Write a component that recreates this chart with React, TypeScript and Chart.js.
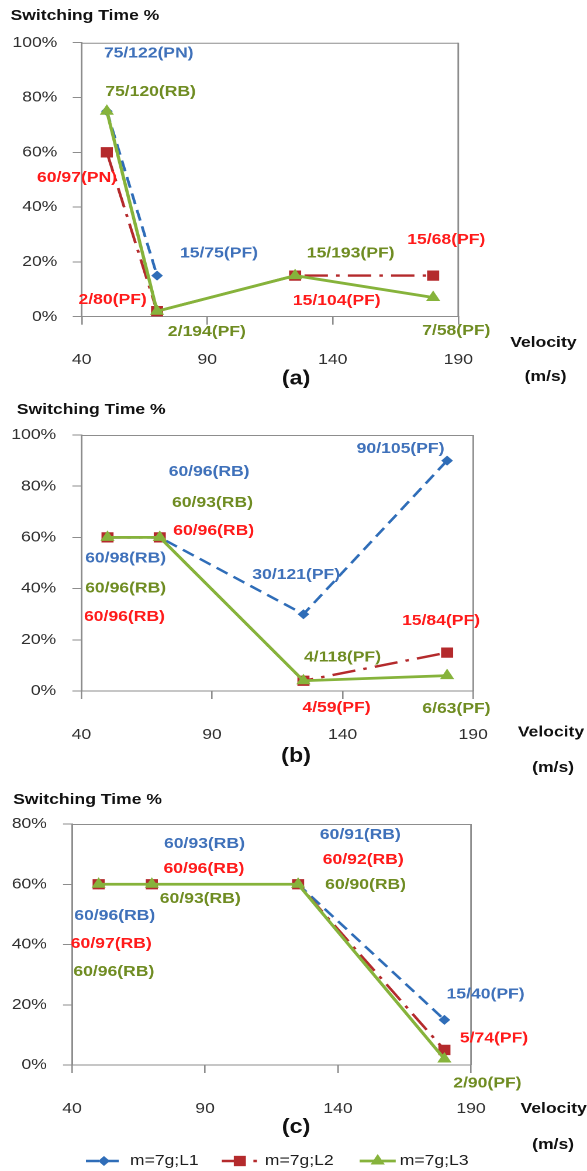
import React, { useEffect, useRef } from "react";
import { Chart, registerables } from "chart.js";

Chart.register(...registerables);

// ---- data -------------------------------------------------------------
const velocity = [50, 70, 125, 180];
const seriesNames = ["m=7g;L1", "m=7g;L2", "m=7g;L3"];

// (a)
const aL1 = [75, 15, null, null];
const aL2 = [60, 2, 15, 15];
const aL3 = [75, 2, 15, 7];
const aL1Text = ["75/122(PN)", "15/75(PF)", null, null];
const aL2Text = ["60/97(PN)", "2/80(PF)", "15/104(PF)", "15/68(PF)"];
const aL3Text = ["75/120(RB)", "2/194(PF)", "15/193(PF)", "7/58(PF)"];

// (b)
const bL1 = [60, 60, 30, 90];
const bL2 = [60, 60, 4, 15];
const bL3 = [60, 60, 4, 6];
const bL1Text = ["60/98(RB)", "60/96(RB)", "30/121(PF)", "90/105(PF)"];
const bL2Text = ["60/96(RB)", "60/96(RB)", "4/59(PF)", "15/84(PF)"];
const bL3Text = ["60/96(RB)", "60/93(RB)", "4/118(PF)", "6/63(PF)"];

// (c)
const cL1 = [60, 60, 60, 15];
const cL2 = [60, 60, 60, 5];
const cL3 = [60, 60, 60, 2];
const cL1Text = ["60/96(RB)", "60/93(RB)", "60/91(RB)", "15/40(PF)"];
const cL2Text = ["60/97(RB)", "60/96(RB)", "60/92(RB)", "5/74(PF)"];
const cL3Text = ["60/96(RB)", "60/93(RB)", "60/90(RB)", "2/90(PF)"];

const xMin = 40;
const xMax = 190;
const xStep = 50;
const yStep = 20;

// ---- styling ------------------------------------------------------------
const FONT = '"Liberation Sans", Arial, Helvetica, sans-serif';
const INNER_W = 502; // drawing width; canvases are shown 587px wide
const OUTER_W = 587;
const AXIS = "#8d8d8d";
const TEXT = "#303030";
const lineColors = ["#2f6db8", "#b42a2c", "#86b33b"];
const labelColors = ["#3f71ba", "#ff1a1a", "#6f8c22"];
const dashes = [[11, 6], [20, 7, 3, 7], []];
const lineWidths = [2.4, 2.4, 2.8];
const pointStyles = ["rectRot", "rect", "triangle"];
const pointRadii = [5, 7.3, 7];

type Off = [number, number];
type PanelSpec = {
  tag: string;
  height: number;
  yMax: number;
  area: { left: number; right: number; top: number; bottom: number };
  yPad: number;
  xPad: number;
  values: (number | null)[][];
  texts: (string | null)[][];
  offsets: Off[][];
  titlePos: [number, number];
  velocityPos: [number, number];
  unitPos: [number, number];
  tagPos: [number, number];
  legend: boolean;
};

const panels: PanelSpec[] = [
  {
    tag: "(a)",
    height: 388,
    yMax: 100,
    area: { left: 69.9, right: 391.9, top: 42.7, bottom: 316.7 },
    yPad: 13.2,
    xPad: 26.3,
    values: [aL1, aL2, aL3],
    texts: [aL1Text, aL2Text, aL3Text],
    offsets: [
      [[35.8, -57.9], [53, -22.3], [0, 0], [0, 0]],
      [[-25.5, 25.4], [-38, -11.2], [35.6, 25.4], [11.2, -35.6]],
      [[37.4, -19.5], [42.6, 20.5], [47.5, -22.3], [19.8, 33.2]],
    ],
    titlePos: [9, 16],
    velocityPos: [464.7, 343],
    unitPos: [466.6, 377],
    tagPos: [253.2, 379],
    legend: false,
  },
  {
    tag: "(b)",
    height: 387,
    yMax: 100,
    area: { left: 69.6, right: 404.7, top: 47, bottom: 303 },
    yPad: 13.9,
    xPad: 27,
    values: [bL1, bL2, bL3],
    texts: [bL1Text, bL2Text, bL3Text],
    offsets: [
      [[15.5, 20.9], [42.2, -65.7], [-6.2, -39.2], [-39.8, -11.6]],
      [[14.5, 79.3], [46.1, -6.4], [28.3, 26.9], [-5.2, -31.6]],
      [[15.5, 50.9], [45.1, -34.7], [33.4, -23.5], [8, 33.4]],
    ],
    titlePos: [14.4, 22],
    velocityPos: [471.2, 344.3],
    unitPos: [473, 380],
    tagPos: [253.2, 368.7],
    legend: false,
  },
  {
    tag: "(c)",
    height: 396,
    yMax: 80,
    area: { left: 61.6, right: 402.8, top: 49, bottom: 290 },
    yPad: 13.8,
    xPad: 27,
    values: [cL1, cL2, cL3],
    texts: [cL1Text, cL2Text, cL3Text],
    offsets: [
      [[13.8, 31.8], [45, -40.3], [53.2, -49.3], [35.2, -25.5]],
      [[10.8, 59.8], [44.6, -15.3], [55.7, -24.3], [42.4, -11.6]],
      [[13, 87.5], [41.4, 14.8], [57.7, 0.75], [36.8, 24.3]],
    ],
    titlePos: [11.2, 25],
    velocityPos: [473.5, 334],
    unitPos: [473, 370],
    tagPos: [253.2, 352.3],
    legend: true,
  },
];

const legendY = 386;
const legendCenters = [88.9, 205.1, 323];
const legendTextX = [111.1, 226.5, 341.9];

function markerPath(ctx: CanvasRenderingContext2D, style: string, x: number, y: number, r: number) {
  ctx.beginPath();
  if (style === "rectRot") {
    ctx.moveTo(x - r, y);
    ctx.lineTo(x, y - r);
    ctx.lineTo(x + r, y);
    ctx.lineTo(x, y + r);
  } else if (style === "rect") {
    const s = Math.SQRT1_2 * r;
    ctx.rect(x - s, y - s, 2 * s, 2 * s);
  } else {
    const h = r * 1.5;
    const w = r * Math.sqrt(3);
    ctx.moveTo(x, y - r);
    ctx.lineTo(x + w / 2, y - r + h);
    ctx.lineTo(x - w / 2, y - r + h);
  }
  ctx.closePath();
}

function decorPlugin(p: PanelSpec) {
  return {
    id: "panelDecor",
    afterDatasetsDraw(chart: any) {
      const ctx: CanvasRenderingContext2D = chart.ctx;
      const a = chart.chartArea;
      ctx.save();

      // plot-area frame (top and right edges)
      ctx.strokeStyle = AXIS;
      ctx.lineWidth = 1;
      ctx.beginPath();
      ctx.moveTo(a.left, a.top + 0.5);
      ctx.lineTo(a.right, a.top + 0.5);
      ctx.stroke();
      ctx.lineWidth = 1.4;
      ctx.beginPath();
      ctx.moveTo(a.right, a.top);
      ctx.lineTo(a.right, a.bottom);
      ctx.stroke();

      // point labels
      ctx.font = `bold 15px ${FONT}`;
      ctx.textAlign = "center";
      ctx.textBaseline = "middle";
      p.texts.forEach((row, i) => {
        const meta = chart.getDatasetMeta(i);
        row.forEach((text, j) => {
          const pt = meta.data[j];
          if (!text || !pt || pt.skip) return;
          const [dx, dy] = p.offsets[i][j];
          ctx.fillStyle = labelColors[i];
          ctx.fillText(text, pt.x + dx, pt.y + dy);
        });
      });

      // axis captions
      ctx.fillStyle = "#111";
      ctx.font = `bold 15px ${FONT}`;
      ctx.textAlign = "left";
      ctx.fillText("Switching Time %", p.titlePos[0], p.titlePos[1]);
      ctx.textAlign = "center";
      ctx.fillText("Velocity", p.velocityPos[0], p.velocityPos[1]);
      ctx.fillText("(m/s)", p.unitPos[0], p.unitPos[1]);
      ctx.font = `bold 20px ${FONT}`;
      ctx.fillText(p.tag, p.tagPos[0], p.tagPos[1]);

      // legend
      if (p.legend) {
        seriesNames.forEach((name, i) => {
          const cx = legendCenters[i];
          ctx.strokeStyle = lineColors[i];
          ctx.lineWidth = lineWidths[i];
          ctx.setLineDash(dashes[i]);
          ctx.beginPath();
          ctx.moveTo(cx - 15.4, legendY);
          ctx.lineTo(cx + 15.4, legendY);
          ctx.stroke();
          ctx.setLineDash([]);
          ctx.fillStyle = lineColors[i];
          markerPath(ctx, pointStyles[i], cx, legendY, pointRadii[i]);
          ctx.fill();
          ctx.fillStyle = "#1e1e1e";
          ctx.font = `15px ${FONT}`;
          ctx.textAlign = "left";
          ctx.fillText(name, legendTextX[i], legendY);
        });
      }
      ctx.restore();
    },
  };
}

function makeConfig(p: PanelSpec): any {
  const datasets = p.values.map((vals, i) => ({
    label: seriesNames[i],
    data: velocity.map((v, j) => ({ x: v, y: vals[j] })),
    borderColor: lineColors[i],
    backgroundColor: lineColors[i],
    borderWidth: lineWidths[i],
    borderDash: dashes[i],
    pointStyle: pointStyles[i],
    pointRadius: pointRadii[i],
    pointBorderWidth: 0,
    pointBackgroundColor: lineColors[i],
    tension: 0,
    spanGaps: false,
    order: 3 - i,
  }));
  const tickFont = { family: FONT, size: 15 };
  return {
    type: "line",
    data: { datasets },
    options: {
      animation: false,
      responsive: false,
      devicePixelRatio: 2,
      events: [],
      layout: {
        padding: { left: 0, top: p.area.top, right: INNER_W - p.area.right, bottom: 0 },
      },
      plugins: {
        legend: { display: false },
        tooltip: { enabled: false },
        title: { display: false },
      },
      scales: {
        x: {
          type: "linear",
          min: xMin,
          max: xMax,
          ticks: { stepSize: xStep, font: tickFont, color: TEXT, padding: p.xPad, maxRotation: 0 },
          grid: { drawOnChartArea: false, drawTicks: true, tickLength: 8, color: AXIS, lineWidth: 1.3 },
          border: { color: AXIS, width: 1 },
          afterFit: (s: any) => {
            s.height = p.height - p.area.bottom;
          },
        },
        y: {
          type: "linear",
          min: 0,
          max: p.yMax,
          ticks: {
            stepSize: yStep,
            font: tickFont,
            color: TEXT,
            padding: p.yPad,
            callback: (v: number) => `${v}%`,
          },
          grid: { drawOnChartArea: false, drawTicks: true, tickLength: 7.7, color: AXIS, lineWidth: 1 },
          border: { color: AXIS, width: 1.5 },
          afterFit: (s: any) => {
            s.width = p.area.left;
          },
        },
      },
    },
    plugins: [decorPlugin(p)],
  };
}

function Panel({ spec }: { spec: PanelSpec }) {
  const ref = useRef<HTMLCanvasElement | null>(null);
  useEffect(() => {
    if (!ref.current) return;
    const chart = new Chart(ref.current, makeConfig(spec));
    return () => chart.destroy();
  }, [spec]);
  return (
    <canvas
      ref={ref}
      width={INNER_W}
      height={spec.height}
      style={{ display: "block", width: OUTER_W, height: spec.height }}
    />
  );
}

export default function App() {
  return (
    <div style={{ position: "absolute", left: 0, top: 0, width: OUTER_W, background: "#fff" }}>
      {panels.map((p) => (
        <Panel key={p.tag} spec={p} />
      ))}
    </div>
  );
}
